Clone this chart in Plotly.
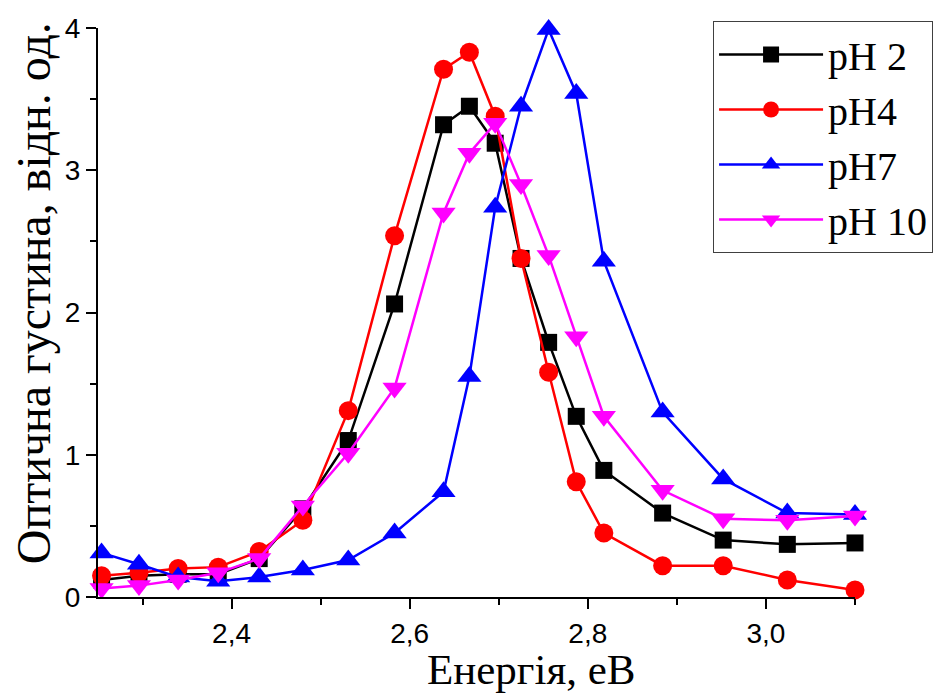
import plotly.graph_objects as go

energy = [2.254, 2.296, 2.340, 2.385, 2.431, 2.480, 2.531, 2.583, 2.638, 2.667,
          2.696, 2.725, 2.756, 2.787, 2.818, 2.884, 2.952, 3.024, 3.100]

ph2 = [0.12, 0.15, 0.16, 0.16, 0.27, 0.62, 1.10, 2.06, 3.32, 3.45,
       3.19, 2.38, 1.79, 1.27, 0.89, 0.59, 0.40, 0.37, 0.38]
ph4 = [0.15, 0.17, 0.20, 0.21, 0.32, 0.54, 1.31, 2.54, 3.71, 3.83,
       3.38, 2.38, 1.58, 0.81, 0.45, 0.22, 0.22, 0.12, 0.05]
ph7 = [0.31, 0.23, 0.14, 0.11, 0.14, 0.19, 0.26, 0.45, 0.74, 1.55,
       2.74, 3.45, 3.99, 3.54, 2.36, 1.30, 0.83, 0.59, 0.58]
ph10 = [0.06, 0.08, 0.12, 0.17, 0.27, 0.64, 1.01, 1.47, 2.70, 3.12,
        3.33, 2.90, 2.40, 1.83, 1.27, 0.75, 0.55, 0.54, 0.57]

names = ["pH 2", "pH4", "pH7", "pH 10"]
series = [ph2, ph4, ph7, ph10]
colors = ["#000000", "#FF0000", "#0000FF", "#FF00FF"]
symbols = ["square", "circle", "triangle-up", "triangle-down"]
sizes = [17, 19, 21, 21]

x_title = "Енергія, еВ"
y_title = "Оптична густина, відн. од."

fig = go.Figure()
for name, ys, c, s, sz in zip(names, series, colors, symbols, sizes):
    fig.add_trace(go.Scatter(
        x=energy, y=ys, name=name, mode="lines+markers",
        line=dict(color=c, width=2.5),
        marker=dict(symbol=s, size=sz, color=c, line=dict(width=0)),
        cliponaxis=False,
    ))

fig.update_layout(
    width=938, height=700,
    margin=dict(l=98, r=83, t=28, b=103, autoexpand=False),
    paper_bgcolor="white", plot_bgcolor="white",
    separators=", ",
    showlegend=True,
    legend=dict(
        x=0.8125, y=1.0123, xanchor="left", yanchor="top",
        bordercolor="#404040", borderwidth=1, bgcolor="white",
        font=dict(family="Liberation Serif", size=40, color="black"),
        itemwidth=104, tracegroupgap=0,
    ),
    xaxis=dict(
        range=[2.25, 3.10], tick0=2.4, dtick=0.2, tickformat=".1f",
        showgrid=False, zeroline=False,
        showline=True, linecolor="black", linewidth=2,
        ticks="outside", ticklen=10, tickwidth=2, tickcolor="black",
        minor=dict(dtick=0.1, ticks="outside", ticklen=6, tickwidth=2, tickcolor="black"),
        tickfont=dict(family="Liberation Sans", size=28, color="black"),
    ),
    yaxis=dict(
        range=[0, 4], dtick=1,
        showgrid=False, zeroline=False,
        showline=True, linecolor="black", linewidth=2,
        ticks="outside", ticklen=10, tickwidth=2, tickcolor="black",
        minor=dict(dtick=0.5, ticks="outside", ticklen=6, tickwidth=2, tickcolor="black"),
        tickfont=dict(family="Liberation Sans", size=28, color="black"),
    ),
    annotations=[
        dict(text=x_title, xref="paper", yref="paper", x=0.572, y=-0.128,
             xanchor="center", yanchor="middle", showarrow=False,
             font=dict(family="Liberation Serif", size=43, color="black")),
        dict(text=y_title, xref="paper", yref="paper", x=-0.0859, y=0.534,
             xanchor="center", yanchor="middle", showarrow=False, textangle=-90,
             font=dict(family="Liberation Serif", size=48, color="black")),
    ],
)

fig.write_html("out.html", config={"displayModeBar": False},
               post_script="document.body.style.margin='0';document.body.style.overflow='hidden';")
